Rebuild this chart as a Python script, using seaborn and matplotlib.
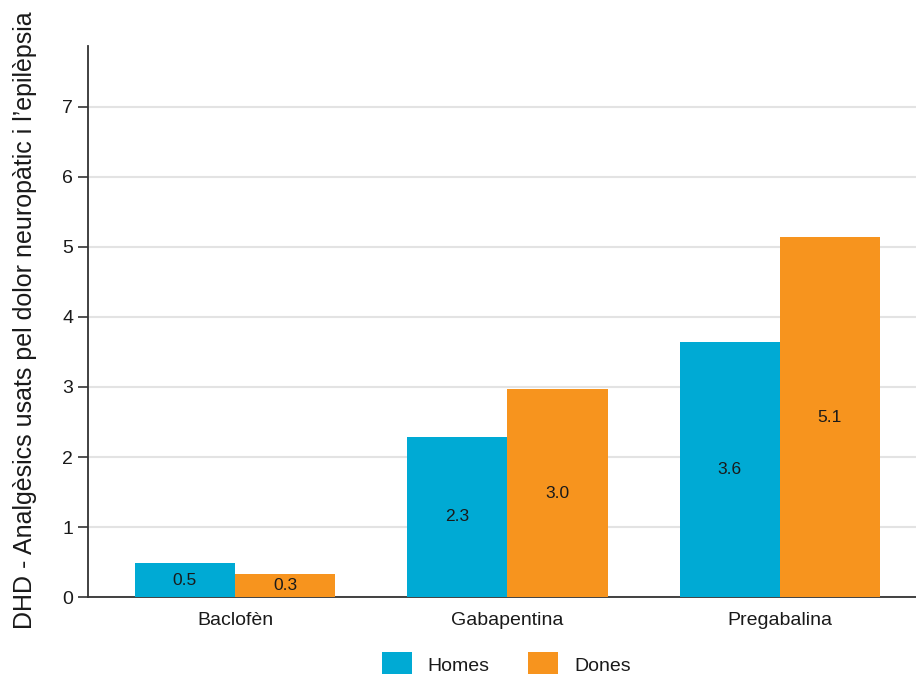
import pandas as pd
import matplotlib.pyplot as plt
import seaborn as sns

# Dades llegides del gràfic
farmacs = ["Baclofèn", "Gabapentina", "Pregabalina"]
homes = [0.49, 2.29, 3.64]
dones = [0.33, 2.97, 5.14]
sexes = ["Homes", "Dones"]
colors = ["#00AAD4", "#F7941E"]
y_ticks = [0, 1, 2, 3, 4, 5, 6, 7]

df = pd.DataFrame({
    "farmac": farmacs * 2,
    "sexe": ["Homes"] * len(farmacs) + ["Dones"] * len(farmacs),
    "dhd": homes + dones,
})

sns.set_style("white")
plt.rcParams["font.family"] = ["Liberation Sans", "DejaVu Sans"]

fig = plt.figure(figsize=(9.16, 6.74), dpi=100)
ax = fig.add_axes([0.096, 0.114, 0.904, 0.818])

sns.barplot(data=df, x="farmac", y="dhd", hue="sexe", hue_order=sexes,
            palette=colors, width=0.735, saturation=1, ax=ax, zorder=3,
            errorbar=None, linewidth=0)

for cont in ax.containers:
    labels = [f"{v:.1f}" for v in cont.datavalues]
    ax.bar_label(cont, labels=labels, label_type="center", fontsize=12.5, color="#1a1a1a")

ax.set_xlim(-0.54, 2.5)
ax.set_ylim(0, 7.87)
ax.set_yticks(y_ticks)
ax.yaxis.grid(True, color="#e3e3e3", linewidth=1.5, zorder=0)
ax.set_axisbelow(True)
for s in ["top", "right"]:
    ax.spines[s].set_visible(False)
for s in ["left", "bottom"]:
    ax.spines[s].set_color("#333333")
    ax.spines[s].set_linewidth(1.3)
ax.tick_params(axis="y", left=True, length=7, width=1.2, color="#333333",
               labelsize=14, pad=3.5, labelcolor="#1a1a1a")
ax.tick_params(axis="x", bottom=False, labelsize=14, pad=7, labelcolor="#1a1a1a")
ax.set_xlabel("")
ax.set_ylabel("DHD - Analgèsics usats pel dolor neuropàtic i l’epilèpsia", fontsize=18, color="#1a1a1a")
ax.yaxis.set_label_coords(-0.061, 0.503)

ax.legend(loc="center", bbox_to_anchor=(0.505, -0.122), ncol=2, frameon=False,
          fontsize=14, handlelength=1.55, handleheight=1.55, columnspacing=2.0,
          handletextpad=0.8, labelcolor="#1a1a1a")

fig.savefig("out.png", dpi=100)
